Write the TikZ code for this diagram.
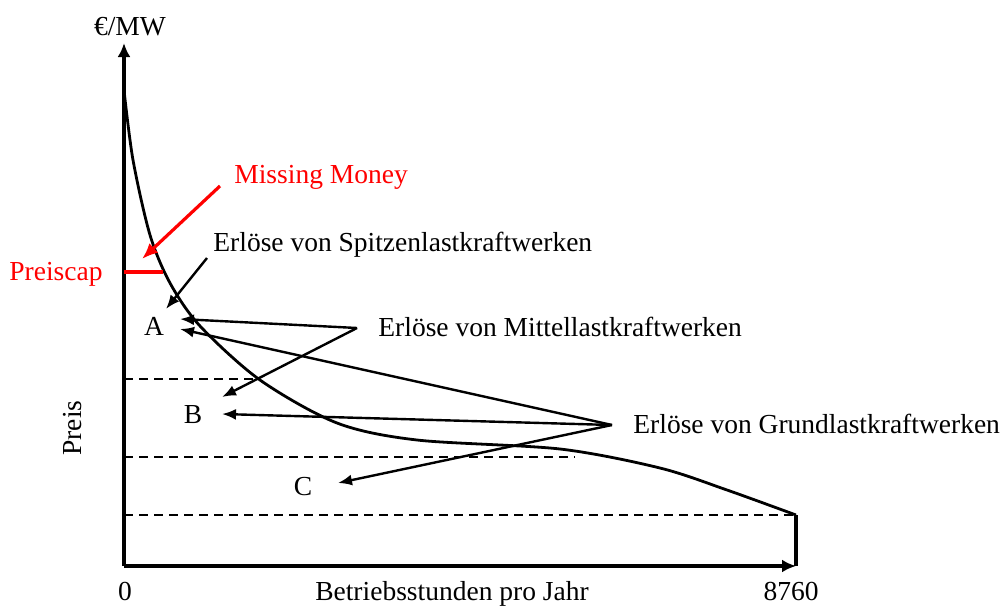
\documentclass[tikz,border=0pt]{standalone}
\usepackage{fontspec}
\setmainfont{Liberation Serif}
\usetikzlibrary{arrows.meta}
\tikzset{
  lbl/.style={font=\fontsize{13.75}{16}\selectfont, inner sep=0pt},
  achse/.style={line width=1.6pt, -{Latex[length=7pt,width=6.5pt]}},
  pfeil/.style={line width=1.2pt, -{Latex[length=7pt,width=5.5pt]}},
  rotpfeil/.style={red, line width=1.6pt, -{Latex[length=8pt,width=6.5pt]}},
  hilfslinie/.style={dash pattern=on 4.5pt off 3pt, line width=1.1pt}
}
\begin{document}
\begin{tikzpicture}[x=0.5pt,y=-0.5pt]
\useasboundingbox (0,0) rectangle (1003,606);

\coordinate (O) at (124,566);
\coordinate (ytop) at (124,43);
\coordinate (xend) at (796,566);
\coordinate (ende) at (796,515);
\draw[achse] (O) -- (ytop);
\draw[achse] (O) -- (xend);
\draw[line width=1.6pt] (ende) -- (xend);

\draw[hilfslinie] (124,379) -- (260,379);
\draw[hilfslinie] (124,457) -- (575,457);
\draw[hilfslinie] (124,515) -- (ende);

\draw[line width=1.4pt] plot[smooth, tension=0.5] coordinates {(124,90) (133,160) (150,235) (170,283) (200,326) (260,380) (337,423) (417,440) (560,449) (660,468) (727,490) (796,515)};

\node[lbl, anchor=base] (einheit) at (130,35) {€/MW};
\node[lbl, anchor=base] (null) at (125,600) {0};
\node[lbl, anchor=base] (max) at (791,600) {8760};
\node[lbl, anchor=base] (xlabel) at (452,600) {Betriebsstunden pro Jahr};
\node[lbl, anchor=base, rotate=90] (ylabel) at (82,428) {Preis};

\node[lbl, anchor=base east, red] (cap) at (103,280) {Preiscap};
\draw[red, line width=1.6pt] (124,272) -- (163,272);
\node[lbl, anchor=base west, red] (mm) at (234,183) {Missing Money};
\coordinate (mmStart) at (220,186);
\coordinate (mmTip) at (142,259);
\draw[rotpfeil] (mmStart) -- (mmTip);

\node[lbl, anchor=base] (A) at (154,335) {A};
\node[lbl, anchor=base] (B) at (193,423) {B};
\node[lbl, anchor=base] (C) at (303,495) {C};

\node[lbl, anchor=base west] (spitze) at (213,251) {Erlöse von Spitzenlastkraftwerken};
\node[lbl, anchor=base west] (mittel) at (378,336) {Erlöse von Mittellastkraftwerken};
\node[lbl, anchor=base west] (grund) at (633,433) {Erlöse von Grundlastkraftwerken};

\coordinate (sStart) at (207,258);
\coordinate (mStart) at (357,328);
\coordinate (gStart) at (612,425);

\draw[pfeil] (sStart) -- (166,309);
\draw[pfeil] (mStart) -- (180,319);
\draw[pfeil] (mStart) -- (222,397);
\draw[pfeil] (gStart) -- (180,329);
\draw[pfeil] (gStart) -- (222,414);
\draw[pfeil] (gStart) -- (338,483);
\end{tikzpicture}
\end{document}
